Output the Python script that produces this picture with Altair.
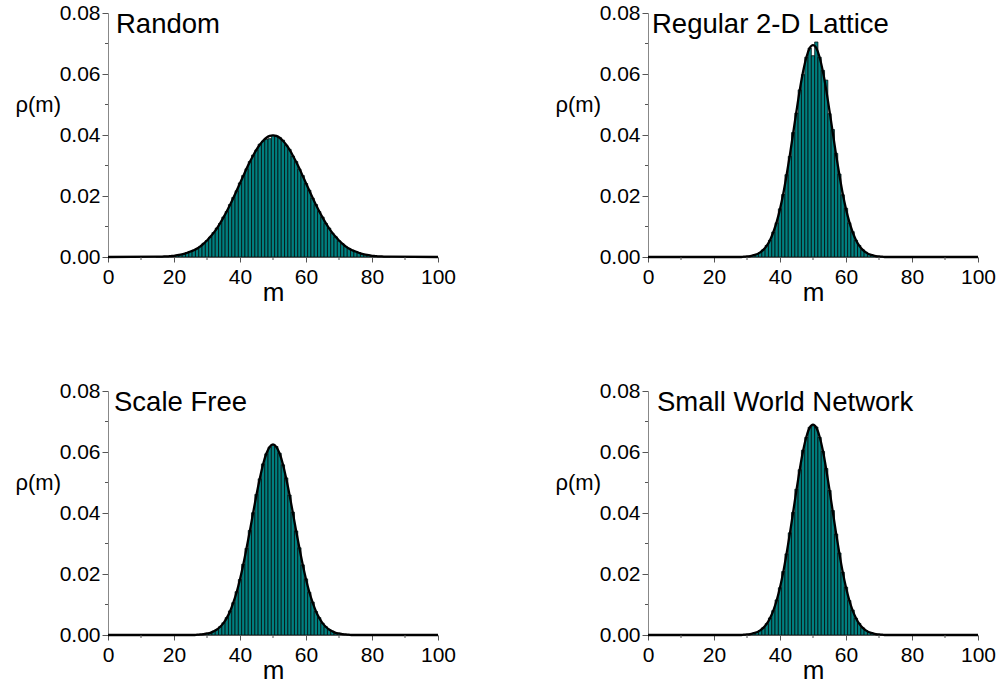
import altair as alt
import pandas as pd

TEAL = "#008080"
FONT = "Liberation Sans"

titles = ["Random", "Regular 2-D Lattice", "Scale Free", "Small World Network"]
title_dx = [8, 4, 6, 9]

# ---- Random ----
random_m = list(range(15, 86))
random_bars = [
    0.0001, 0.0001, 0.0002, 0.0002, 0.0003, 0.0004, 0.0006, 0.0008, 0.0010, 0.0014,
    0.0018, 0.0022, 0.0027, 0.0035, 0.0045, 0.0054, 0.0065, 0.0080, 0.0095, 0.0110,
    0.0131, 0.0149, 0.0172, 0.0195, 0.0217, 0.0243, 0.0267, 0.0289, 0.0313, 0.0334,
    0.0351, 0.0370, 0.0380, 0.0386, 0.0388, 0.0399, 0.0395, 0.0392, 0.0383, 0.0366,
    0.0353, 0.0331, 0.0313, 0.0288, 0.0267, 0.0241, 0.0219, 0.0193, 0.0172, 0.0149,
    0.0131, 0.0110, 0.0095, 0.0078, 0.0066, 0.0053, 0.0044, 0.0035, 0.0028, 0.0022,
    0.0018, 0.0014, 0.0010, 0.0008, 0.0006, 0.0004, 0.0003, 0.0002, 0.0002, 0.0001,
    0.0001,
]
random_fit = [
    0.0001, 0.0001, 0.0002, 0.0002, 0.0003, 0.0004, 0.0006, 0.0008, 0.0010, 0.0014,
    0.0018, 0.0022, 0.0028, 0.0035, 0.0044, 0.0054, 0.0066, 0.0079, 0.0094, 0.0111,
    0.0130, 0.0150, 0.0171, 0.0194, 0.0218, 0.0242, 0.0266, 0.0290, 0.0312, 0.0333,
    0.0352, 0.0368, 0.0381, 0.0391, 0.0397, 0.0399, 0.0397, 0.0391, 0.0381, 0.0368,
    0.0352, 0.0333, 0.0312, 0.0290, 0.0266, 0.0242, 0.0218, 0.0194, 0.0171, 0.0150,
    0.0130, 0.0111, 0.0094, 0.0079, 0.0066, 0.0054, 0.0044, 0.0035, 0.0028, 0.0022,
    0.0018, 0.0014, 0.0010, 0.0008, 0.0006, 0.0004, 0.0003, 0.0002, 0.0002, 0.0001,
    0.0001,
]

# ---- Regular 2-D Lattice ----
lattice_m = list(range(28, 73))
lattice_bars = [
    0.0001, 0.0001, 0.0002, 0.0003, 0.0006, 0.0009, 0.0015, 0.0024, 0.0038, 0.0055,
    0.0082, 0.0112, 0.0158, 0.0205, 0.0270, 0.0330, 0.0408, 0.0472, 0.0548, 0.0598,
    0.0655, 0.0685, 0.0660, 0.0705, 0.0655, 0.0612, 0.0580, 0.0470, 0.0418, 0.0340,
    0.0272, 0.0204, 0.0160, 0.0112, 0.0083, 0.0055, 0.0038, 0.0024, 0.0016, 0.0009,
    0.0006, 0.0003, 0.0002, 0.0001, 0.0001,
]
lattice_fit = [
    0.0000, 0.0001, 0.0002, 0.0003, 0.0006, 0.0009, 0.0015, 0.0024, 0.0037, 0.0056,
    0.0082, 0.0115, 0.0157, 0.0208, 0.0269, 0.0335, 0.0407, 0.0479, 0.0548, 0.0608,
    0.0655, 0.0685, 0.0695, 0.0685, 0.0655, 0.0608, 0.0548, 0.0479, 0.0407, 0.0335,
    0.0269, 0.0208, 0.0157, 0.0115, 0.0082, 0.0056, 0.0037, 0.0024, 0.0015, 0.0009,
    0.0006, 0.0003, 0.0002, 0.0001, 0.0000,
]

# ---- Scale Free ----
scale_m = list(range(26, 75))
scale_bars = [
    0.0001, 0.0001, 0.0002, 0.0003, 0.0005, 0.0007, 0.0012, 0.0018, 0.0027, 0.0040,
    0.0057, 0.0079, 0.0106, 0.0142, 0.0182, 0.0232, 0.0284, 0.0343, 0.0401, 0.0461,
    0.0512, 0.0561, 0.0594, 0.0616, 0.0622, 0.0618, 0.0596, 0.0558, 0.0515, 0.0459,
    0.0403, 0.0341, 0.0286, 0.0230, 0.0184, 0.0140, 0.0108, 0.0077, 0.0057, 0.0039,
    0.0027, 0.0018, 0.0012, 0.0007, 0.0005, 0.0003, 0.0002, 0.0001, 0.0001,
]
scale_fit = [
    0.0000, 0.0001, 0.0002, 0.0003, 0.0005, 0.0007, 0.0012, 0.0018, 0.0027, 0.0039,
    0.0056, 0.0078, 0.0107, 0.0141, 0.0183, 0.0231, 0.0285, 0.0342, 0.0402, 0.0460,
    0.0513, 0.0560, 0.0595, 0.0617, 0.0625, 0.0617, 0.0595, 0.0560, 0.0513, 0.0460,
    0.0402, 0.0342, 0.0285, 0.0231, 0.0183, 0.0141, 0.0107, 0.0078, 0.0056, 0.0039,
    0.0027, 0.0018, 0.0012, 0.0007, 0.0005, 0.0003, 0.0002, 0.0001, 0.0000,
]

# ---- Small World Network ----
small_m = list(range(28, 73))
small_bars = [
    0.0001, 0.0001, 0.0002, 0.0003, 0.0006, 0.0009, 0.0015, 0.0024, 0.0037, 0.0056,
    0.0080, 0.0115, 0.0155, 0.0208, 0.0266, 0.0335, 0.0402, 0.0478, 0.0542, 0.0606,
    0.0648, 0.0681, 0.0686, 0.0682, 0.0648, 0.0602, 0.0546, 0.0474, 0.0408, 0.0331,
    0.0269, 0.0206, 0.0157, 0.0113, 0.0082, 0.0055, 0.0038, 0.0024, 0.0015, 0.0009,
    0.0006, 0.0003, 0.0002, 0.0001, 0.0001,
]
small_fit = [
    0.0000, 0.0001, 0.0002, 0.0003, 0.0006, 0.0009, 0.0015, 0.0024, 0.0037, 0.0056,
    0.0081, 0.0114, 0.0156, 0.0207, 0.0267, 0.0333, 0.0404, 0.0476, 0.0544, 0.0604,
    0.0650, 0.0680, 0.0690, 0.0680, 0.0650, 0.0604, 0.0544, 0.0476, 0.0404, 0.0333,
    0.0267, 0.0207, 0.0156, 0.0114, 0.0081, 0.0056, 0.0037, 0.0024, 0.0015, 0.0009,
    0.0006, 0.0003, 0.0002, 0.0001, 0.0000,
]

x_major = [0, 20, 40, 60, 80, 100]
x_minor = [10, 30, 50, 70, 90]
y_major = [0.0, 0.02, 0.04, 0.06, 0.08]
y_minor = [0.01, 0.03, 0.05, 0.07]

PH = 244  # plot height

x_axis = alt.Axis(
    values=x_major,
    tickSize=5,
    labelFlush=False,
    labelOverlap=False,
    labelPadding=4,
    labelFontSize=21,
    title="m",
    titleFontSize=26,
    titleY=43,
    titleBaseline="alphabetic",
    grid=False,
)
y_axis = alt.Axis(
    values=y_major,
    format=".2f",
    tickSize=6,
    labelOverlap=False,
    labelPadding=2,
    labelFontSize=21,
    title="ρ(m)",
    titleFontSize=22,
    titleAngle=0,
    titleAlign="left",
    titleBaseline="middle",
    titleX=-93,
    titleY=91,
    grid=False,
)


def panel(m, bars, fit, title, dx, width):
    xs = alt.Scale(domain=[0, 100], nice=False, zero=False)
    ys = alt.Scale(domain=[0, 0.08], nice=False)
    bar_df = pd.DataFrame({"m": m, "rho": bars})
    fit_df = pd.DataFrame({"m": [0] + m + [100], "rho": [0.0] + fit + [0.0]})
    bars_ch = (
        alt.Chart(bar_df)
        .transform_calculate(lo="datum.m - 0.5", hi="datum.m + 0.5", base="0")
        .mark_rect(fill=TEAL, stroke="black", strokeWidth=0.7)
        .encode(
            x=alt.X("lo:Q", scale=xs, axis=x_axis),
            x2="hi:Q",
            y=alt.Y("rho:Q", scale=ys, axis=y_axis),
            y2="base:Q",
        )
    )
    fit_ch = (
        alt.Chart(fit_df)
        .mark_line(color="black", strokeWidth=2.3, interpolate="monotone")
        .encode(
            x=alt.X("m:Q", scale=xs, axis=x_axis),
            y=alt.Y("rho:Q", scale=ys, axis=y_axis),
        )
    )
    xminor_ch = (
        alt.Chart(pd.DataFrame({"m": x_minor}))
        .mark_rule(color="#555555", strokeWidth=1)
        .encode(
            x=alt.X("m:Q", scale=xs, axis=x_axis),
            y=alt.value(PH),
            y2=alt.value(PH + 3),
        )
    )
    yminor_ch = (
        alt.Chart(pd.DataFrame({"rho": y_minor}))
        .mark_rule(color="#555555", strokeWidth=1)
        .encode(
            y=alt.Y("rho:Q", scale=ys, axis=y_axis),
            x=alt.value(0),
            x2=alt.value(-3),
        )
    )
    text_ch = (
        alt.Chart(pd.DataFrame({"t": [title]}))
        .mark_text(align="left", baseline="alphabetic", font=FONT, fontSize=27.5, color="black")
        .encode(text="t:N", x=alt.value(dx), y=alt.value(20))
    )
    return alt.layer(bars_ch, fit_ch, xminor_ch, yminor_ch, text_ch).properties(
        width=width, height=PH
    )


p1 = panel(random_m, random_bars, random_fit, titles[0], title_dx[0], 330)
p2 = panel(lattice_m, lattice_bars, lattice_fit, titles[1], title_dx[1], 330)
p3 = panel(scale_m, scale_bars, scale_fit, titles[2], title_dx[2], 330)
p4 = panel(small_m, small_bars, small_fit, titles[3], title_dx[3], 330)

top = alt.hconcat(p1, p2, spacing=99)
bottom = alt.hconcat(p3, p4, spacing=99)

chart = (
    alt.vconcat(top, bottom, spacing=75)
    .properties(padding={"left": 15, "top": 2, "right": 0, "bottom": 0}, background="white")
    .configure_view(stroke=None)
    .configure_axis(
        labelFont=FONT,
        titleFont=FONT,
        labelColor="black",
        titleColor="black",
        titleFontWeight="normal",
        domainColor="#888888",
        tickColor="#555555",
        domainWidth=1,
        tickWidth=1,
    )
)

chart.save("out.html", embed_options={"renderer": "svg", "actions": False})
